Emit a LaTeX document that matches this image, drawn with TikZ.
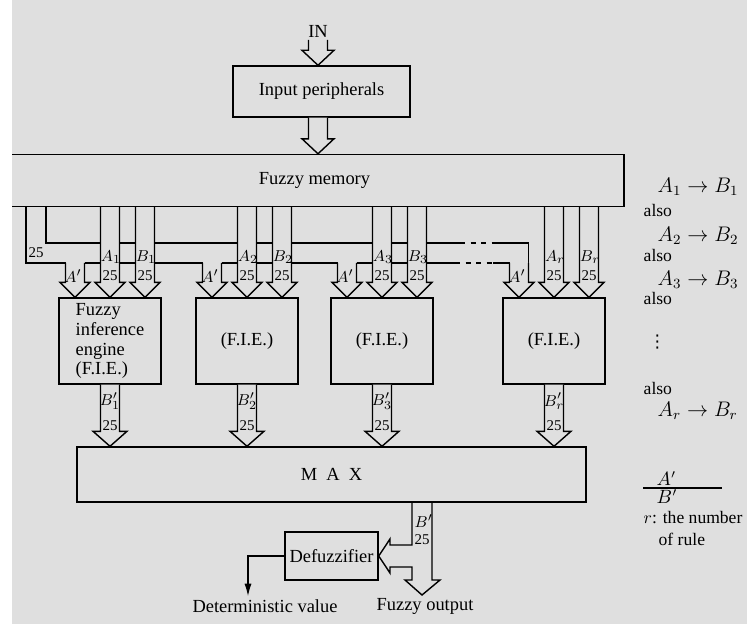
\documentclass[tikz,border=0pt]{standalone}
\usepackage{fontspec}
\setmainfont{Liberation Serif}
\newfontfamily\symfont{DejaVu Sans}
\usepackage{tikz}
\usetikzlibrary{calc,arrows.meta}
\definecolor{bg}{RGB}{223,223,223}
\def\px{0.02cm}
% hollow down arrow: centre x, from, to, half width of head
\newcommand\pipe[4]{%
  \draw[pipe] let \p1=(#2), \p2=(#3) in
    ({(#1-9.5)*\px},\y1) -- ({(#1-9.5)*\px},{\y2+15*\px}) -- ({(#1-#4)*\px},{\y2+15*\px})
    -- ({(#1)*\px},\y2) -- ({(#1+#4)*\px},{\y2+15*\px}) -- ({(#1+9.5)*\px},{\y2+15*\px})
    -- ({(#1+9.5)*\px},\y1);}
\tikzset{
  box/.style={draw, inner sep=0pt, font=\fontsize{10.5}{11.3}\selectfont},
  pipe/.style={draw, fill=bg},
  lbl/.style={inner sep=0pt, font=\fontsize{8.5}{9}\selectfont},
  sym/.style={inner sep=0pt, font=\fontsize{9.5}{10}\selectfont},
  rulebox/.style={anchor=west, inner sep=0pt, font=\fontsize{10}{12}\selectfont},
  rulemath/.style={anchor=west, inner sep=0pt, font=\fontsize{11.5}{12}\selectfont}
}
\begin{document}
\begin{tikzpicture}[x=0.02cm, y=-0.02cm, line width=0.8pt]
\useasboundingbox (0,0) rectangle (747,624);
\fill[bg] (0,0) rectangle (747,624);

% Input side
\node[font=\fontsize{10.5}{12}\selectfont, inner sep=0pt] (inlbl) at (318,31) {IN};
\coordinate (in) at (318,40);
\node[box, minimum width=3.54cm, minimum height=1.02cm] (inp) at (321.5,91.5) {Input peripherals};
\node[box, minimum width=12.38cm, minimum height=1.04cm] (mem) at (314.5,180.5) {Fuzzy memory};
\fill[white] (0,0) rectangle (12,624);
\pipe{318}{in}{inp.north}{16}
\pipe{318}{inp.south}{mem.north}{16}

% Inference engines
\node[box, minimum width=2.04cm, minimum height=1.72cm, align=left] (fie1) at (110,341) {Fuzzy\\inference\\engine\\(F.I.E.)};
\node[box, minimum width=2.04cm, minimum height=1.72cm] (fie2) at (247,341) {(F.I.E.)};
\node[box, minimum width=2.04cm, minimum height=1.72cm] (fie3) at (382,341) {(F.I.E.)};
\node[box, minimum width=2.04cm, minimum height=1.72cm] (fie4) at (554,341) {(F.I.E.)};
\node[box, minimum width=10.18cm, minimum height=1.1cm] (max) at (331.5,474.5) {M\ \ A\ \ X};
\node[box, minimum width=1.86cm, minimum height=0.96cm] (defuzz) at (331.5,556) {Defuzzifier};

% A' bus
\draw (26,0 |- mem.south) -- (26,263) -- (65.5,263);
\draw (84.5,263) -- (202.5,263);
\draw (221.5,263) -- (337.5,263);
\draw (356.5,263) -- (455,263);
\draw[dashed] (455,263) -- (493,263);
\draw (493,263) -- (509.5,263);
\draw (46,0 |- mem.south) -- (46,243) -- (460,243);
\draw[dashed] (460,243) -- (493,243);
\draw (493,243) -- (528.5,243) -- (528.5,263);
\coordinate (bus) at (0,263);
\node[lbl, anchor=west] (n25) at (28,253) {25};

% rule pipes into each F.I.E.
\foreach \c/\i/\k in {110/1/1, 247/2/2, 382/3/3, 554/r/4} {
  \pipe{\c}{mem.south}{fie\k.north}{15}
  \pipe{\c+35}{mem.south}{fie\k.north}{15}
  \pipe{\c-35}{bus}{fie\k.north}{15}
  \pipe{\c}{fie\k.south}{max.north}{17}
  \node[sym] at (\c-37,276) {$A'$};
  \node[sym] at (\c+1,257) {$A_\i$};
  \node[lbl] at (\c,276) {25};
  \node[sym] at (\c+36,257) {$B_\i$};
  \node[lbl] at (\c+35,276) {25};
  \node[sym] at (\c,401) {$B_\i'$};
  \node[lbl] at (\c,426) {25};
}

% output of MAX
\coordinate (fout) at (422,595);
\coordinate (det) at (248,596);
\draw (412,0 |- max.south) -- (412,545) -- (390,545) -- (390,539) -- (defuzz.east) -- (390,573)
  -- (390,567) -- (412,567) -- (412,580) -- (405,580) -- (fout) -- (440,580) -- (432,580) -- (432,0 |- max.south);
\node[sym, anchor=west] at (414,521) {$B'$};
\node[lbl, anchor=west] at (414,540) {25};
\draw[-{Latex[length=7pt,width=4pt]}, line width=0.6pt] (defuzz.west) -| (det);
\node[font=\fontsize{10.5}{12}\selectfont, inner sep=0pt] (detval) at (265,606) {Deterministic value};
\node[font=\fontsize{10.5}{12}\selectfont, inner sep=0pt] (fuzzout) at (425,606) {Fuzzy output};

% rule base
\node[rulemath] at (657,187) {$A_1\rightarrow B_1$};
\node[rulebox] at (643,210) {also};
\node[rulemath] at (657,236) {$A_2\rightarrow B_2$};
\node[rulebox] at (643,255) {also};
\node[rulemath] at (657,280) {$A_3\rightarrow B_3$};
\node[rulebox] at (643,298) {also};
\node[rulebox, font=\symfont\fontsize{10}{12}\selectfont] at (648,342) {⋮};
\node[rulebox] at (643,388) {also};
\node[rulemath] at (657,411) {$A_r\rightarrow B_r$};
\node[rulebox, font=\fontsize{10.5}{12}\selectfont] (ap) at (656,479) {$A'$};
\draw[line width=0.6pt] (643,488) -- (722,488);
\node[rulebox, font=\fontsize{10.5}{12}\selectfont] (bp) at (656,497) {$B'$};
\node[rulebox] at (643,518) {$r$: the number};
\node[rulebox] at (658,539) {of rule};
\end{tikzpicture}
\end{document}
